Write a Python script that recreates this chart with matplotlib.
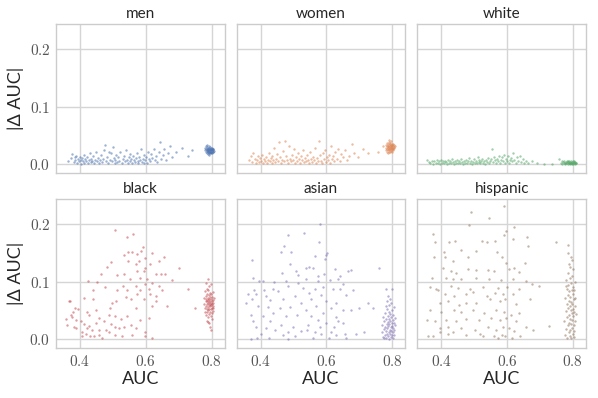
import matplotlib
matplotlib.use("Agg")
import matplotlib.pyplot as plt
from matplotlib.ticker import FuncFormatter, MultipleLocator

# groups shown in the grid, row by row
groups = ["men", "women", "white", "black", "asian", "hispanic"]
colors = ["#4C72B0", "#DD8452", "#55A868", "#C44E52", "#8172B3", "#937860"]

# (AUC, |delta AUC|) points, spread part + cluster near AUC 0.8
men_pts = [
    (0.364, 0.006), (0.372, 0.011), (0.377, 0.018), (0.381, 0.004), (0.384, 0.012), (0.386, 0.007),
    (0.389, 0.015), (0.391, 0.002), (0.394, 0.009), (0.397, 0.005), (0.399, 0.013), (0.402, 0.008),
    (0.404, 0.001), (0.406, 0.011), (0.409, 0.006), (0.411, 0.016), (0.413, 0.003), (0.416, 0.009),
    (0.419, 0.005), (0.421, 0.012), (0.424, 0.002), (0.427, 0.007), (0.429, 0.019), (0.432, 0.004),
    (0.435, 0.010), (0.437, 0.006), (0.441, 0.014), (0.444, 0.003), (0.447, 0.008), (0.450, 0.021),
    (0.452, 0.005), (0.455, 0.011), (0.458, 0.002), (0.461, 0.007), (0.464, 0.016), (0.467, 0.004),
    (0.470, 0.009), (0.474, 0.025), (0.476, 0.034), (0.478, 0.006), (0.482, 0.013), (0.485, 0.002),
    (0.487, 0.021), (0.490, 0.008), (0.493, 0.019), (0.496, 0.005), (0.499, 0.030), (0.502, 0.011),
    (0.505, 0.003), (0.508, 0.008), (0.511, 0.017), (0.514, 0.004), (0.517, 0.012), (0.520, 0.006),
    (0.523, 0.022), (0.527, 0.002), (0.530, 0.009), (0.533, 0.014), (0.536, 0.005), (0.539, 0.024),
    (0.542, 0.008), (0.545, 0.003), (0.548, 0.012), (0.551, 0.018), (0.553, 0.006), (0.556, 0.010),
    (0.559, 0.002), (0.561, 0.015), (0.564, 0.007), (0.567, 0.004), (0.569, 0.011), (0.572, 0.020),
    (0.575, 0.006), (0.577, 0.002), (0.580, 0.013), (0.583, 0.008), (0.585, 0.027), (0.588, 0.004),
    (0.591, 0.010), (0.594, 0.003), (0.596, 0.016), (0.599, 0.007), (0.602, 0.012), (0.605, 0.002),
    (0.608, 0.022), (0.611, 0.009), (0.614, 0.005), (0.617, 0.018), (0.620, 0.011), (0.624, 0.026),
    (0.627, 0.007), (0.631, 0.014), (0.635, 0.004), (0.639, 0.021), (0.643, 0.039), (0.647, 0.010),
    (0.652, 0.016), (0.657, 0.027), (0.662, 0.008), (0.668, 0.019), (0.674, 0.031), (0.681, 0.013),
    (0.693, 0.022), (0.709, 0.029), (0.728, 0.015), (0.741, 0.025),
    (0.779, 0.024), (0.781, 0.028), (0.782, 0.021), (0.783, 0.026), (0.784, 0.031), (0.785, 0.023),
    (0.785, 0.019), (0.786, 0.027), (0.787, 0.024), (0.787, 0.030), (0.788, 0.021), (0.788, 0.026),
    (0.789, 0.018), (0.789, 0.023), (0.790, 0.028), (0.790, 0.025), (0.791, 0.021), (0.791, 0.032),
    (0.792, 0.026), (0.792, 0.023), (0.793, 0.019), (0.793, 0.029), (0.794, 0.025), (0.794, 0.022),
    (0.795, 0.027), (0.795, 0.020), (0.796, 0.024), (0.796, 0.030), (0.797, 0.022), (0.797, 0.026),
    (0.798, 0.019), (0.798, 0.028), (0.799, 0.024), (0.799, 0.021), (0.800, 0.026), (0.800, 0.023),
    (0.801, 0.029), (0.801, 0.020), (0.802, 0.025), (0.803, 0.022), (0.803, 0.027), (0.804, 0.024),
    (0.805, 0.021), (0.806, 0.026), (0.808, 0.023), (0.786, 0.034), (0.792, 0.016),
]

women_pts = [
    (0.366, 0.008), (0.371, 0.014), (0.375, 0.004), (0.378, 0.019), (0.382, 0.010), (0.385, 0.002),
    (0.388, 0.007), (0.391, 0.015), (0.394, 0.004), (0.397, 0.011), (0.400, 0.006), (0.403, 0.017),
    (0.406, 0.002), (0.409, 0.009), (0.412, 0.005), (0.415, 0.013), (0.418, 0.003), (0.421, 0.008),
    (0.424, 0.020), (0.427, 0.006), (0.430, 0.011), (0.433, 0.002), (0.436, 0.015), (0.439, 0.007),
    (0.442, 0.029), (0.445, 0.004), (0.448, 0.010), (0.451, 0.018), (0.454, 0.006), (0.457, 0.038),
    (0.460, 0.012), (0.463, 0.003), (0.466, 0.008), (0.469, 0.023), (0.472, 0.005), (0.475, 0.040),
    (0.478, 0.014), (0.481, 0.007), (0.484, 0.002), (0.487, 0.031), (0.490, 0.010), (0.493, 0.005),
    (0.496, 0.017), (0.499, 0.008), (0.502, 0.026), (0.505, 0.003), (0.508, 0.012), (0.511, 0.006),
    (0.514, 0.020), (0.517, 0.009), (0.520, 0.002), (0.523, 0.014), (0.526, 0.007), (0.529, 0.024),
    (0.532, 0.004), (0.535, 0.011), (0.538, 0.005), (0.541, 0.016), (0.544, 0.008), (0.547, 0.002),
    (0.550, 0.021), (0.553, 0.010), (0.556, 0.004), (0.559, 0.013), (0.562, 0.007), (0.565, 0.028),
    (0.568, 0.002), (0.571, 0.011), (0.574, 0.005), (0.577, 0.040), (0.580, 0.016), (0.583, 0.006),
    (0.586, 0.003), (0.589, 0.019), (0.592, 0.009), (0.595, 0.025), (0.598, 0.004), (0.601, 0.012),
    (0.604, 0.007), (0.607, 0.017), (0.610, 0.002), (0.613, 0.031), (0.616, 0.009), (0.619, 0.014),
    (0.623, 0.005), (0.627, 0.022), (0.631, 0.010), (0.635, 0.027), (0.640, 0.006), (0.645, 0.018),
    (0.650, 0.012), (0.656, 0.024), (0.662, 0.008), (0.668, 0.015), (0.677, 0.035), (0.685, 0.020),
    (0.697, 0.013), (0.712, 0.026), (0.727, 0.019), (0.757, 0.021), (0.771, 0.031),
    (0.780, 0.029), (0.781, 0.034), (0.782, 0.025), (0.783, 0.031), (0.784, 0.037), (0.785, 0.027),
    (0.785, 0.022), (0.786, 0.032), (0.787, 0.029), (0.787, 0.036), (0.788, 0.024), (0.788, 0.030),
    (0.789, 0.021), (0.789, 0.027), (0.790, 0.033), (0.790, 0.039), (0.791, 0.025), (0.791, 0.030),
    (0.792, 0.035), (0.792, 0.022), (0.793, 0.028), (0.793, 0.032), (0.794, 0.026), (0.794, 0.037),
    (0.795, 0.030), (0.795, 0.023), (0.796, 0.034), (0.796, 0.028), (0.797, 0.025), (0.797, 0.031),
    (0.798, 0.036), (0.798, 0.022), (0.799, 0.029), (0.799, 0.033), (0.800, 0.026), (0.800, 0.031),
    (0.801, 0.035), (0.801, 0.024), (0.802, 0.029), (0.803, 0.032), (0.803, 0.026), (0.804, 0.030),
    (0.805, 0.034), (0.806, 0.028), (0.807, 0.031), (0.790, 0.042), (0.796, 0.041), (0.786, 0.019),
]

white_pts = [
    (0.356, 0.007), (0.362, 0.004), (0.367, 0.002), (0.371, 0.006), (0.375, 0.001), (0.379, 0.005),
    (0.383, 0.003), (0.386, 0.008), (0.390, 0.002), (0.393, 0.005), (0.396, 0.001), (0.399, 0.007),
    (0.402, 0.003), (0.405, 0.005), (0.408, 0.002), (0.411, 0.006), (0.414, 0.004), (0.417, 0.001),
    (0.420, 0.007), (0.423, 0.003), (0.426, 0.005), (0.429, 0.002), (0.432, 0.009), (0.435, 0.004),
    (0.438, 0.001), (0.441, 0.006), (0.444, 0.003), (0.447, 0.008), (0.450, 0.002), (0.453, 0.005),
    (0.456, 0.003), (0.459, 0.010), (0.462, 0.004), (0.465, 0.001), (0.468, 0.006), (0.471, 0.003),
    (0.474, 0.008), (0.477, 0.002), (0.480, 0.005), (0.483, 0.011), (0.486, 0.003), (0.489, 0.006),
    (0.492, 0.001), (0.495, 0.004), (0.498, 0.009), (0.501, 0.003), (0.504, 0.006), (0.507, 0.002),
    (0.510, 0.012), (0.513, 0.004), (0.516, 0.007), (0.519, 0.002), (0.522, 0.005), (0.525, 0.010),
    (0.528, 0.003), (0.531, 0.006), (0.534, 0.001), (0.537, 0.008), (0.540, 0.004), (0.543, 0.011),
    (0.546, 0.002), (0.549, 0.006), (0.552, 0.009), (0.555, 0.026), (0.558, 0.004), (0.561, 0.013),
    (0.564, 0.007), (0.567, 0.002), (0.570, 0.010), (0.573, 0.005), (0.576, 0.015), (0.579, 0.003),
    (0.582, 0.008), (0.585, 0.012), (0.588, 0.005), (0.591, 0.017), (0.594, 0.002), (0.597, 0.009),
    (0.600, 0.006), (0.603, 0.014), (0.606, 0.003), (0.609, 0.008), (0.612, 0.011), (0.615, 0.005),
    (0.619, 0.019), (0.622, 0.008), (0.626, 0.003), (0.630, 0.012), (0.634, 0.006), (0.638, 0.015),
    (0.642, 0.004), (0.647, 0.009), (0.652, 0.002), (0.658, 0.006), (0.665, 0.003), (0.675, 0.005),
    (0.690, 0.002), (0.712, 0.001), (0.738, 0.001), (0.757, 0.009),
    (0.763, 0.003), (0.766, 0.005), (0.768, 0.001), (0.770, 0.004), (0.772, 0.002), (0.774, 0.006),
    (0.775, 0.003), (0.777, 0.000), (0.778, 0.004), (0.780, 0.002), (0.781, 0.005), (0.782, 0.003),
    (0.784, 0.001), (0.785, 0.004), (0.786, 0.006), (0.787, 0.002), (0.788, 0.003), (0.789, 0.005),
    (0.790, 0.001), (0.791, 0.003), (0.792, 0.004), (0.793, 0.002), (0.794, 0.006), (0.795, 0.003),
    (0.796, 0.000), (0.797, 0.004), (0.798, 0.002), (0.799, 0.005), (0.800, 0.003), (0.801, 0.001),
    (0.802, 0.004), (0.803, 0.002), (0.804, 0.005), (0.805, 0.003), (0.806, 0.001), (0.807, 0.004),
    (0.808, 0.002), (0.810, 0.003),
]

black_pts = [
    (0.506, 0.189), (0.561, 0.182), (0.543, 0.177), (0.591, 0.160), (0.587, 0.153), (0.546, 0.152),
    (0.559, 0.152), (0.619, 0.150), (0.533, 0.146), (0.574, 0.148), (0.598, 0.140), (0.546, 0.136),
    (0.579, 0.136), (0.655, 0.143), (0.639, 0.136), (0.493, 0.134), (0.483, 0.125), (0.569, 0.130),
    (0.599, 0.124), (0.614, 0.130), (0.700, 0.124), (0.463, 0.114), (0.513, 0.111), (0.533, 0.113),
    (0.574, 0.118), (0.594, 0.118), (0.630, 0.114), (0.645, 0.114), (0.660, 0.113), (0.553, 0.104),
    (0.584, 0.107), (0.604, 0.104), (0.680, 0.103), (0.425, 0.101), (0.453, 0.100), (0.619, 0.098),
    (0.530, 0.093), (0.569, 0.093), (0.599, 0.095), (0.639, 0.093), (0.476, 0.090), (0.441, 0.085),
    (0.513, 0.085), (0.543, 0.086), (0.584, 0.085), (0.610, 0.087), (0.650, 0.086), (0.728, 0.087),
    (0.574, 0.079), (0.614, 0.078), (0.630, 0.075), (0.539, 0.073), (0.412, 0.071), (0.439, 0.069),
    (0.510, 0.066), (0.498, 0.063), (0.366, 0.066), (0.371, 0.066), (0.554, 0.070), (0.594, 0.069),
    (0.630, 0.066), (0.665, 0.057), (0.569, 0.054), (0.619, 0.058), (0.490, 0.054), (0.448, 0.051),
    (0.385, 0.054), (0.395, 0.052), (0.380, 0.048), (0.420, 0.048), (0.427, 0.043), (0.375, 0.038),
    (0.357, 0.036), (0.389, 0.034), (0.402, 0.031), (0.458, 0.037), (0.505, 0.040), (0.543, 0.040),
    (0.609, 0.037), (0.473, 0.031), (0.493, 0.027), (0.448, 0.029), (0.412, 0.027), (0.427, 0.023),
    (0.383, 0.022), (0.362, 0.025), (0.554, 0.025), (0.569, 0.019), (0.519, 0.019), (0.478, 0.016),
    (0.458, 0.017), (0.437, 0.016), (0.407, 0.013), (0.417, 0.010), (0.430, 0.005), (0.405, 0.006),
    (0.488, 0.013), (0.508, 0.008), (0.529, 0.005), (0.559, 0.008), (0.598, 0.013), (0.619, 0.003),
    (0.598, 0.005), (0.468, 0.003), (0.443, 0.005), (0.387, 0.019), (0.372, 0.043), (0.488, 0.043),
    (0.524, 0.035), (0.534, 0.022), (0.584, 0.034), (0.458, 0.008), (0.422, 0.019), (0.505, 0.022),
    (0.776, 0.062), (0.778, 0.071), (0.779, 0.055), (0.780, 0.048), (0.781, 0.083), (0.782, 0.066),
    (0.782, 0.058), (0.783, 0.075), (0.784, 0.043), (0.784, 0.069), (0.785, 0.052), (0.785, 0.088),
    (0.786, 0.061), (0.786, 0.079), (0.787, 0.047), (0.787, 0.067), (0.788, 0.056), (0.788, 0.072),
    (0.789, 0.038), (0.789, 0.063), (0.790, 0.085), (0.790, 0.051), (0.790, 0.068), (0.791, 0.059),
    (0.791, 0.076), (0.792, 0.044), (0.792, 0.064), (0.793, 0.070), (0.793, 0.053), (0.793, 0.092),
    (0.794, 0.061), (0.794, 0.081), (0.795, 0.048), (0.795, 0.066), (0.796, 0.057), (0.796, 0.074),
    (0.797, 0.041), (0.797, 0.063), (0.798, 0.069), (0.798, 0.052), (0.799, 0.078), (0.799, 0.060),
    (0.800, 0.045), (0.800, 0.067), (0.801, 0.055), (0.801, 0.073), (0.802, 0.062), (0.802, 0.035),
    (0.803, 0.058), (0.803, 0.082), (0.804, 0.049), (0.804, 0.068), (0.805, 0.063), (0.806, 0.054),
    (0.807, 0.071), (0.783, 0.098), (0.788, 0.104), (0.792, 0.028), (0.795, 0.022), (0.799, 0.016),
    (0.786, 0.032), (0.797, 0.096), (0.749, 0.054), (0.790, 0.030),
]

asian_pts = [
    (0.581, 0.199), (0.531, 0.185), (0.483, 0.180), (0.470, 0.162), (0.493, 0.152), (0.463, 0.152),
    (0.577, 0.169), (0.601, 0.149), (0.599, 0.146), (0.564, 0.145), (0.489, 0.130), (0.597, 0.139),
    (0.538, 0.123), (0.548, 0.126), (0.560, 0.123), (0.625, 0.122), (0.665, 0.118), (0.675, 0.120),
    (0.761, 0.123), (0.464, 0.115), (0.506, 0.118), (0.373, 0.138), (0.514, 0.111), (0.575, 0.110),
    (0.594, 0.113), (0.641, 0.110), (0.377, 0.106), (0.396, 0.101), (0.406, 0.101), (0.442, 0.100),
    (0.478, 0.101), (0.513, 0.098), (0.538, 0.104), (0.574, 0.101), (0.611, 0.102), (0.634, 0.104),
    (0.650, 0.095), (0.483, 0.092), (0.529, 0.089), (0.564, 0.087), (0.590, 0.091), (0.621, 0.087),
    (0.640, 0.087), (0.680, 0.085), (0.437, 0.087), (0.380, 0.086), (0.409, 0.086), (0.781, 0.087),
    (0.453, 0.083), (0.361, 0.079), (0.386, 0.078), (0.417, 0.075), (0.427, 0.068), (0.503, 0.075),
    (0.548, 0.080), (0.584, 0.076), (0.660, 0.076), (0.354, 0.063), (0.375, 0.069), (0.468, 0.069),
    (0.523, 0.063), (0.554, 0.069), (0.599, 0.066), (0.629, 0.063), (0.700, 0.055), (0.725, 0.063),
    (0.742, 0.054), (0.392, 0.057), (0.422, 0.056), (0.458, 0.054), (0.488, 0.056), (0.538, 0.051),
    (0.569, 0.057), (0.614, 0.054), (0.650, 0.051), (0.675, 0.051), (0.372, 0.043), (0.407, 0.041),
    (0.437, 0.045), (0.478, 0.040), (0.509, 0.043), (0.554, 0.041), (0.589, 0.045), (0.629, 0.038),
    (0.377, 0.031), (0.427, 0.031), (0.463, 0.025), (0.498, 0.022), (0.543, 0.025), (0.574, 0.033),
    (0.599, 0.028), (0.624, 0.022), (0.650, 0.028), (0.387, 0.022), (0.417, 0.019), (0.445, 0.016),
    (0.483, 0.013), (0.523, 0.015), (0.564, 0.013), (0.584, 0.010), (0.614, 0.012), (0.655, 0.010),
    (0.690, 0.010), (0.715, 0.013), (0.372, 0.000), (0.390, 0.002), (0.425, 0.002), (0.483, 0.000),
    (0.503, 0.005), (0.559, 0.003), (0.609, 0.002), (0.629, 0.008), (0.660, 0.003), (0.540, 0.016),
    (0.468, 0.008), (0.402, 0.010), (0.579, 0.022), (0.634, 0.031),
    (0.768, 0.012), (0.770, 0.025), (0.772, 0.004), (0.773, 0.038), (0.774, 0.018), (0.776, 0.031),
    (0.777, 0.008), (0.778, 0.046), (0.779, 0.021), (0.780, 0.014), (0.781, 0.035), (0.782, 0.002),
    (0.783, 0.027), (0.784, 0.052), (0.784, 0.010), (0.785, 0.019), (0.786, 0.041), (0.787, 0.006),
    (0.787, 0.030), (0.788, 0.023), (0.789, 0.059), (0.789, 0.013), (0.790, 0.036), (0.791, 0.001),
    (0.791, 0.026), (0.792, 0.017), (0.793, 0.044), (0.793, 0.009), (0.794, 0.032), (0.795, 0.021),
    (0.795, 0.063), (0.796, 0.004), (0.797, 0.039), (0.797, 0.015), (0.798, 0.028), (0.799, 0.050),
    (0.799, 0.008), (0.800, 0.023), (0.801, 0.034), (0.801, 0.012), (0.802, 0.003), (0.803, 0.043),
    (0.803, 0.019), (0.804, 0.029), (0.805, 0.056), (0.805, 0.007), (0.806, 0.016), (0.807, 0.037),
    (0.808, 0.024), (0.780, 0.057), (0.794, 0.069), (0.787, 0.075), (0.800, 0.087), (0.776, 0.002),
    (0.790, 0.048), (0.785, 0.066),
]

hispanic_pts = [
    (0.590, 0.231), (0.489, 0.220), (0.544, 0.210), (0.483, 0.198), (0.375, 0.183), (0.597, 0.187),
    (0.622, 0.195), (0.382, 0.169), (0.422, 0.169), (0.443, 0.171), (0.524, 0.170), (0.562, 0.171),
    (0.592, 0.180), (0.619, 0.174), (0.538, 0.169), (0.660, 0.178), (0.748, 0.169), (0.784, 0.164),
    (0.407, 0.152), (0.461, 0.155), (0.504, 0.153), (0.569, 0.152), (0.663, 0.162), (0.377, 0.142),
    (0.410, 0.142), (0.434, 0.136), (0.481, 0.143), (0.585, 0.142), (0.597, 0.133), (0.653, 0.133),
    (0.405, 0.124), (0.430, 0.118), (0.446, 0.115), (0.481, 0.122), (0.504, 0.120), (0.541, 0.120),
    (0.559, 0.118), (0.605, 0.122), (0.622, 0.123), (0.637, 0.117), (0.415, 0.107), (0.435, 0.104),
    (0.373, 0.106), (0.461, 0.104), (0.506, 0.107), (0.544, 0.105), (0.582, 0.103), (0.617, 0.104),
    (0.658, 0.101), (0.676, 0.095), (0.696, 0.093), (0.367, 0.091), (0.385, 0.087), (0.390, 0.085),
    (0.430, 0.093), (0.451, 0.089), (0.486, 0.087), (0.526, 0.091), (0.572, 0.089), (0.599, 0.091),
    (0.637, 0.087), (0.410, 0.078), (0.440, 0.075), (0.474, 0.079), (0.496, 0.082), (0.538, 0.075),
    (0.562, 0.080), (0.589, 0.078), (0.619, 0.078), (0.395, 0.063), (0.420, 0.066), (0.454, 0.060),
    (0.476, 0.063), (0.506, 0.063), (0.548, 0.069), (0.577, 0.066), (0.595, 0.070), (0.627, 0.062),
    (0.670, 0.069), (0.365, 0.051), (0.400, 0.048), (0.440, 0.051), (0.461, 0.047), (0.496, 0.051),
    (0.531, 0.045), (0.567, 0.051), (0.592, 0.048), (0.613, 0.043), (0.637, 0.045), (0.355, 0.034),
    (0.380, 0.031), (0.415, 0.034), (0.445, 0.031), (0.476, 0.035), (0.516, 0.033), (0.551, 0.037),
    (0.577, 0.033), (0.597, 0.037), (0.627, 0.031), (0.658, 0.022), (0.395, 0.019), (0.420, 0.022),
    (0.461, 0.019), (0.501, 0.017), (0.541, 0.022), (0.567, 0.016), (0.589, 0.021), (0.605, 0.019),
    (0.622, 0.015), (0.678, 0.017), (0.728, 0.023), (0.360, 0.006), (0.375, 0.005), (0.420, 0.010),
    (0.435, 0.012), (0.476, 0.008), (0.526, 0.005), (0.559, 0.006), (0.572, 0.003), (0.585, 0.008),
    (0.595, 0.005), (0.616, 0.003), (0.640, 0.006), (0.397, 0.013), (0.519, 0.010),
    (0.774, 0.031), (0.776, 0.072), (0.777, 0.008), (0.778, 0.102), (0.779, 0.049), (0.780, 0.018),
    (0.781, 0.088), (0.782, 0.061), (0.782, 0.003), (0.783, 0.039), (0.784, 0.115), (0.784, 0.077),
    (0.785, 0.024), (0.786, 0.055), (0.786, 0.094), (0.787, 0.012), (0.787, 0.067), (0.788, 0.043),
    (0.788, 0.131), (0.789, 0.083), (0.789, 0.029), (0.790, 0.006), (0.790, 0.058), (0.791, 0.106),
    (0.791, 0.036), (0.792, 0.074), (0.792, 0.016), (0.793, 0.050), (0.793, 0.097), (0.794, 0.027),
    (0.794, 0.065), (0.795, 0.142), (0.795, 0.002), (0.796, 0.086), (0.796, 0.045), (0.797, 0.020),
    (0.797, 0.110), (0.798, 0.062), (0.798, 0.034), (0.799, 0.079), (0.799, 0.010), (0.800, 0.053),
    (0.800, 0.121), (0.801, 0.041), (0.801, 0.091), (0.802, 0.025), (0.802, 0.069), (0.803, 0.004),
    (0.803, 0.047), (0.804, 0.085), (0.804, 0.015), (0.805, 0.058), (0.806, 0.100), (0.806, 0.032),
    (0.807, 0.071), (0.808, 0.044), (0.785, 0.150), (0.792, 0.125), (0.797, 0.138), (0.778, 0.092),
]

all_pts = [men_pts, women_pts, white_pts, black_pts, asian_pts, hispanic_pts]

plt.rcParams.update({
    "font.family": ["Lato", "DejaVu Sans"],
    "mathtext.fontset": "cm",
    "axes.edgecolor": "#cccccc",
    "axes.linewidth": 1.0,
    "grid.color": "#d5d5d5",
    "grid.linewidth": 1.0,
    "text.color": "#262626",
    "axes.labelcolor": "#262626",
    "xtick.color": "#555555",
    "ytick.color": "#555555",
})

fig, axes = plt.subplots(2, 3, figsize=(5.98, 3.98), dpi=100, sharex=True, sharey=True)
fig.subplots_adjust(left=0.0936, right=0.98, bottom=0.1256, top=0.9397, wspace=0.071, hspace=0.1745)

fmt = FuncFormatter(lambda v, p: r"$%.1f$" % v)

for ax, name, col, pts in zip(axes.flat, groups, colors, all_pts):
    xs = [p[0] for p in pts]
    ys = [p[1] for p in pts]
    ax.scatter(xs, ys, s=3, color=col, alpha=0.55, linewidths=0, zorder=3)
    ax.set_title(name, fontsize=11, pad=4)
    ax.grid(True)
    ax.set_axisbelow(True)
    ax.tick_params(length=0, labelsize=11, pad=4)
    ax.xaxis.set_major_locator(MultipleLocator(0.2))
    ax.yaxis.set_major_locator(MultipleLocator(0.1))
    ax.xaxis.set_major_formatter(fmt)
    ax.yaxis.set_major_formatter(fmt)

axes[0, 0].set_xlim(0.327, 0.84)
axes[0, 0].set_ylim(-0.015, 0.243)

for ax in axes[:, 0]:
    ax.set_ylabel("|Δ AUC|", fontsize=13)
for ax in axes[1, :]:
    ax.set_xlabel("AUC", fontsize=13, labelpad=2)

fig.savefig("out.png", dpi=100)
